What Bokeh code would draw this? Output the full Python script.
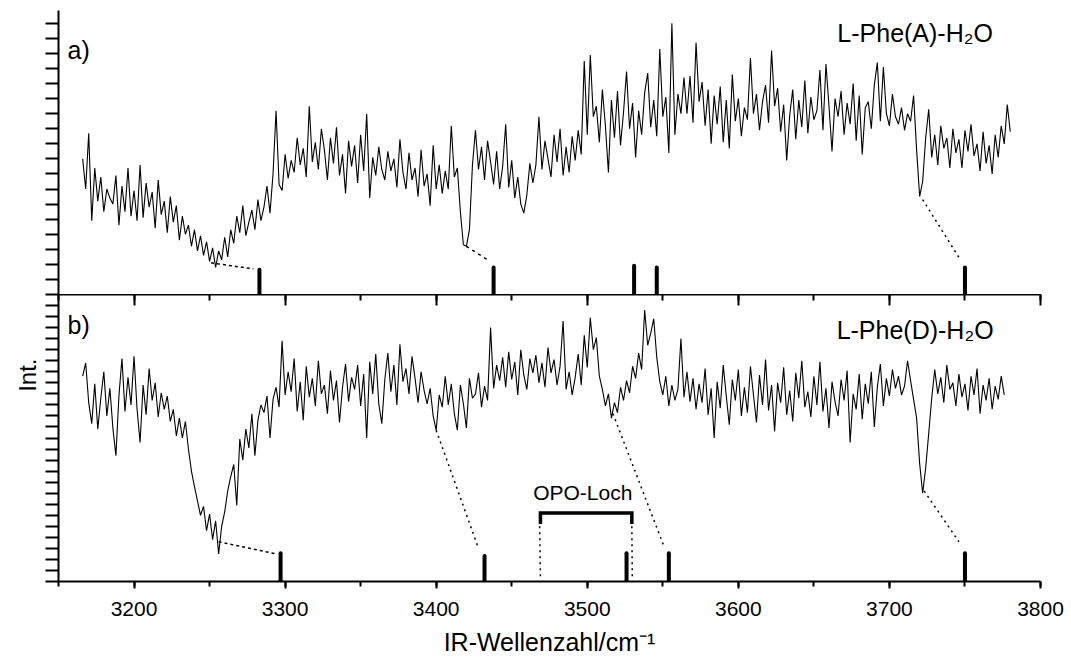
from bokeh.plotting import figure
from bokeh.layouts import column
from bokeh.models import Range1d, SingleIntervalTicker, LinearAxis, Label, Title
from bokeh.embed import file_html
from bokeh.resources import INLINE

FONT = "Liberation Sans"

# ---------------- data ----------------
wn_start = 3166          # first wavenumber (cm^-1)
wn_step = 2              # spacing of the recorded points (cm^-1)

int_a = [
    9.0, 7.0, 10.7, 4.9, 8.4, 6.2, 7.8, 5.5, 7.0, 6.4,
    6.0, 7.9, 4.6, 7.2, 5.5, 8.4, 5.2, 6.9, 4.9, 8.6,
    5.1, 7.4, 5.8, 6.8, 4.4, 7.6, 5.3, 6.2, 4.1, 6.5,
    4.8, 5.9, 3.6, 5.2, 4.0, 4.6, 3.2, 4.3, 2.9, 3.9,
    2.6, 3.5, 2.2, 3.1, 1.8, 2.9, 2.3, 3.8, 2.5, 4.3,
    3.4, 5.2, 4.1, 5.9, 3.9, 4.8, 5.6, 4.3, 6.3, 4.9,
    5.8, 7.2, 5.4, 8.0, 12.2, 7.3, 6.9, 9.3, 7.7, 8.9,
    8.1, 10.4, 8.6, 9.7, 7.8, 12.5, 8.8, 10.1, 8.3, 11.0,
    9.6, 7.6, 10.4, 8.7, 11.1, 7.9, 9.3, 6.7, 10.2, 8.5,
    9.9, 7.4, 10.6, 8.2, 12.0, 6.4, 9.1, 7.9, 9.8, 8.3,
    7.6, 9.5, 8.2, 9.0, 7.1, 10.3, 8.1, 7.0, 9.4, 7.6,
    8.4, 6.5, 9.6, 7.2, 8.0, 5.9, 9.9, 7.0, 8.6, 6.7,
    8.2, 7.0, 11.2, 7.8, 8.4, 5.5, 3.3, 3.2, 4.3, 8.6,
    10.9, 8.3, 9.8, 7.6, 10.2, 8.8, 7.3, 9.5, 7.0, 8.5,
    11.3, 7.1, 8.9, 6.4, 7.8, 6.0, 5.4, 6.6, 8.7, 7.4,
    8.6, 11.8, 8.3, 10.2, 9.0, 7.8, 10.6, 8.8, 11.0, 7.9,
    9.8, 8.1, 10.5, 8.9, 10.9, 9.3, 15.5, 10.6, 15.9, 11.8,
    12.5, 10.1, 13.6, 11.2, 8.1, 12.9, 10.4, 13.5, 9.9, 12.1,
    14.8, 11.0, 12.7, 9.1, 12.2, 10.6, 13.4, 14.7, 11.1, 12.9,
    10.5, 16.3, 11.8, 13.1, 9.4, 18.0, 10.6, 13.3, 12.0, 14.4,
    12.0, 14.5, 11.4, 16.7, 12.8, 14.1, 11.2, 13.6, 10.0, 13.2,
    11.3, 13.8, 10.1, 12.9, 9.7, 14.6, 11.5, 13.0, 10.5, 12.4,
    11.6, 15.7, 12.0, 13.3, 10.9, 12.8, 13.9, 11.4, 16.2, 12.5,
    13.7, 10.8, 12.6, 8.9, 11.9, 13.6, 10.3, 12.9, 11.1, 14.2,
    10.7, 13.1, 11.6, 12.2, 14.9, 10.9, 15.3, 12.5, 9.5, 13.0,
    11.8, 13.5, 10.6, 12.7, 11.3, 14.0, 10.2, 13.2, 9.3, 12.4,
    12.8, 11.0, 13.9, 15.4, 11.5, 15.1, 12.0, 11.2, 13.3, 11.8,
    11.3, 12.4, 10.9, 12.0, 11.5, 13.2, 9.6, 6.5, 7.5, 10.4,
    12.3, 9.1, 10.6, 8.6, 11.2, 9.7, 10.4, 8.4, 11.0, 9.4,
    10.3, 8.4, 10.9, 9.5, 11.3, 9.2, 10.0, 8.2, 10.8, 8.7,
    9.9, 8.0, 10.6, 9.1, 11.2, 10.0, 12.6, 10.8,
]

int_b = [
    18.6, 19.8, 16.2, 14.3, 17.9, 13.8, 16.6, 19.0, 15.0, 17.5,
    13.9, 11.4, 16.8, 20.2, 15.4, 18.5, 16.0, 20.4, 15.6, 12.6,
    17.8, 15.1, 19.3, 16.4, 18.0, 14.9, 17.1, 15.6, 16.8, 14.5,
    15.6, 13.2, 14.8, 13.0, 14.5, 12.0, 10.0, 8.6, 7.3, 6.0,
    6.8, 4.6, 6.1, 3.8, 5.5, 2.5, 5.0, 6.3, 8.2, 9.5,
    10.6, 6.9, 12.9, 11.0, 13.8, 12.1, 15.2, 11.4, 14.6, 16.0,
    15.3, 16.8, 13.0, 16.5, 17.6, 15.8, 21.8, 16.9, 19.0, 17.2,
    20.2, 15.4, 18.1, 14.6, 19.5, 16.7, 18.4, 15.9, 20.0, 17.0,
    17.8, 15.2, 19.1, 16.4, 18.2, 14.4, 17.6, 19.7, 16.3, 18.5,
    17.4, 19.6, 15.9, 18.8, 13.0, 19.9, 17.0, 20.6, 16.1, 14.3,
    18.3, 20.7, 17.2, 19.6, 16.0, 21.5, 18.1, 19.3, 17.0, 20.4,
    18.4, 16.2, 19.0, 17.3, 16.1, 17.5, 15.0, 13.7, 16.9, 15.8,
    18.6, 16.0, 17.9, 15.2, 13.7, 17.8, 16.1, 13.9, 18.4, 16.6,
    17.0, 18.9, 15.8, 17.7, 16.4, 23.0, 17.5, 19.6, 18.2, 20.3,
    17.6, 20.8, 18.3, 19.9, 16.9, 21.0, 18.7, 17.4, 20.2, 18.9,
    20.5, 18.0, 19.8, 17.6, 21.2, 18.9, 20.1, 17.8, 19.5, 23.6,
    17.4, 19.0, 16.9, 18.5, 20.6, 17.8, 22.3, 19.4, 23.9, 21.0,
    22.1, 18.6, 17.4, 15.9, 17.0, 14.8, 16.2, 15.3, 17.6, 16.4,
    18.2, 17.1, 19.5, 18.4, 20.7, 19.2, 24.6, 21.4, 22.5, 23.8,
    20.3, 18.1, 16.9, 18.6, 15.9, 17.8, 16.4, 17.4, 22.0, 16.7,
    19.0, 16.3, 18.4, 15.6, 17.9, 16.2, 19.3, 15.1, 17.5, 13.0,
    18.1, 15.7, 19.6, 16.8, 14.2, 18.3, 16.4, 19.2, 15.0, 17.6,
    15.3, 19.5, 16.9, 14.4, 18.7, 16.0, 20.1, 15.5, 17.8, 13.6,
    18.0, 16.2, 19.4, 15.1, 17.3, 14.5, 18.9, 16.6, 20.0, 15.8,
    17.2, 14.9, 18.6, 16.0, 19.9, 15.4, 17.5, 13.9, 18.1, 16.3,
    15.0, 18.3, 16.4, 19.1, 12.6, 17.0, 15.6, 18.8, 14.7, 17.9,
    16.1, 19.0, 14.0, 17.6, 19.7, 15.9, 18.4, 16.8, 19.2, 17.5,
    18.6, 16.9, 17.7, 20.0, 18.2, 16.5, 14.8, 10.7, 8.0, 10.3,
    13.4, 16.6, 19.2, 17.0, 18.5, 16.2, 19.6, 17.4, 18.0, 15.9,
    18.8, 16.7, 17.9, 15.5, 18.6, 16.9, 19.3, 15.2, 17.8, 16.4,
    18.4, 15.6, 17.7, 16.5, 18.6, 16.9,
]

# calculated band positions (sticks) and their drawn heights
sticks_a_x = [3283, 3438, 3531, 3546, 3750]
sticks_a_h = [1.65, 1.8, 1.9, 1.8, 1.8]
sticks_b_x = [3297, 3432, 3526, 3554, 3750]
sticks_b_h = [2.55, 2.3, 2.55, 2.55, 2.55]

# assignment lines: band in spectrum -> stick
assign_a_x0 = [3251, 3420, 3722]
assign_a_y0 = [2.1, 3.2, 6.3]
assign_a_x1 = [3279, 3434, 3747]
assign_a_y1 = [1.7, 2.3, 2.3]
assign_a_dash = ["3 3", "3 4", "2 4"]

assign_b_x0 = [3256, 3400, 3517, 3723]
assign_b_y0 = [3.6, 13.7, 15.2, 8.2]
assign_b_x1 = [3294, 3428, 3551, 3746]
assign_b_y1 = [2.5, 3.0, 3.1, 3.6]
assign_b_dash = ["3 3", "2 4", "2 4", "2 4"]

# OPO hole (region without laser power)
opo_from = 3469
opo_to = 3529.5

x_a = [wn_start + wn_step * i for i in range(len(int_a))]
x_b = [wn_start + wn_step * i for i in range(len(int_b))]

W = 1071
LEFT, RIGHT = 58, 31


def style_left_axis(ax):
    ax.axis_line_width = 2
    ax.major_tick_line_width = 2
    ax.major_tick_out = 13
    ax.major_tick_in = 0
    ax.minor_tick_line_color = None
    ax.major_label_text_font_size = "0px"
    ax.major_label_text_color = None
    ax.major_label_standoff = 0


# ---------------- top panel a) ----------------
p1 = figure(width=W, height=294, x_range=Range1d(3150, 3800), y_range=Range1d(0, 18.85),
            output_backend="svg", toolbar_location=None, x_axis_location=None,
            min_border_left=LEFT, min_border_right=RIGHT, min_border_top=10, min_border_bottom=0)
p1.outline_line_color = None
p1.grid.visible = False
p1.yaxis.ticker = SingleIntervalTicker(interval=1, num_minor_ticks=0)
style_left_axis(p1.yaxis[0])

p1.line(x_a, int_a, line_color="black", line_width=1.1)
p1.segment(x0=sticks_a_x, y0=[0] * len(sticks_a_x), x1=sticks_a_x, y1=sticks_a_h,
           line_color="black", line_width=4, line_cap="round")
for x0, y0, x1, y1, d in zip(assign_a_x0, assign_a_y0, assign_a_x1, assign_a_y1, assign_a_dash):
    p1.line([x0, x1], [y0, y1], line_color="black", line_width=1.5, line_dash=d)

p1.add_layout(Label(x=3156, y=15.33, text="a)", text_font=FONT, text_font_size="25px",
                    text_color="black"))
p1.add_layout(Label(x=3717, y=16.45, text="L-Phe(A)-H\u2082O", text_font=FONT,
                    text_font_size="25px", text_align="center", text_color="black"))

# ---------------- bottom panel b) ----------------
p2 = figure(width=W, height=364, x_range=p1.x_range, y_range=Range1d(0, 26.0),
            output_backend="svg", toolbar_location=None,
            min_border_left=LEFT, min_border_right=RIGHT, min_border_top=0, min_border_bottom=77)
p2.outline_line_color = None
p2.grid.visible = False
p2.yaxis.ticker = SingleIntervalTicker(interval=1, num_minor_ticks=0)
style_left_axis(p2.yaxis[0])

xb = p2.xaxis[0]
xb.ticker = SingleIntervalTicker(interval=100, num_minor_ticks=2)
xb.axis_line_width = 2
xb.major_tick_line_width = 2
xb.minor_tick_line_width = 2
xb.major_tick_out = 7
xb.major_tick_in = 0
xb.minor_tick_out = 5
xb.minor_tick_in = 0
xb.major_label_text_font = FONT
xb.major_label_text_font_size = "21px"
xb.major_label_text_color = "black"
xb.major_label_standoff = 13
xb.axis_label = "IR-Wellenzahl/cm\u207b\u00b9"
xb.axis_label_text_font = FONT
xb.axis_label_text_font_size = "25px"
xb.axis_label_text_font_style = "normal"
xb.axis_label_text_color = "black"
xb.axis_label_standoff = 9

top_ax = LinearAxis(ticker=SingleIntervalTicker(interval=100, num_minor_ticks=2),
                    axis_line_width=2, major_tick_line_width=2, minor_tick_line_width=2,
                    major_tick_in=11, major_tick_out=0, minor_tick_in=6, minor_tick_out=0,
                    major_label_text_font_size="0px", major_label_text_color=None,
                    major_label_standoff=0)
p2.add_layout(top_ax, "above")

# y-axis caption "Int." as a side title, placed near the top of the lower panel
p2.add_layout(Title(text="Int.", align="right", offset=64, text_font=FONT,
                    text_font_size="24px", text_font_style="normal", text_color="black",
                    standoff=10), "left")

p2.line(x_b, int_b, line_color="black", line_width=1.1)
p2.segment(x0=sticks_b_x, y0=[0] * len(sticks_b_x), x1=sticks_b_x, y1=sticks_b_h,
           line_color="black", line_width=4, line_cap="round")
for x0, y0, x1, y1, d in zip(assign_b_x0, assign_b_y0, assign_b_x1, assign_b_y1, assign_b_dash):
    p2.line([x0, x1], [y0, y1], line_color="black", line_width=1.5, line_dash=d)

# OPO-Loch bracket and its dotted drop lines
p2.line([opo_from, opo_from, opo_to, opo_to], [5.2, 6.2, 6.2, 5.2], line_color="black",
        line_width=3.5, line_join="miter")
p2.line([opo_from - 0.5, opo_from], [5.0, 0.27], line_color="black", line_width=1.5, line_dash="2 4")
p2.line([opo_to, opo_to + 0.3], [5.0, 0.27], line_color="black", line_width=1.5, line_dash="2 4")
p2.add_layout(Label(x=3497, y=7.05, text="OPO-Loch", text_font=FONT, text_font_size="21px",
                    text_align="center", text_color="black"))

p2.add_layout(Label(x=3156, y=21.98, text="b)", text_font=FONT, text_font_size="25px",
                    text_color="black"))
p2.add_layout(Label(x=3717, y=21.53, text="L-Phe(D)-H\u2082O", text_font=FONT,
                    text_font_size="25px", text_align="center", text_color="black"))

layout = column(p1, p2, spacing=0)
open("out.html", "w").write(file_html(layout, INLINE))
